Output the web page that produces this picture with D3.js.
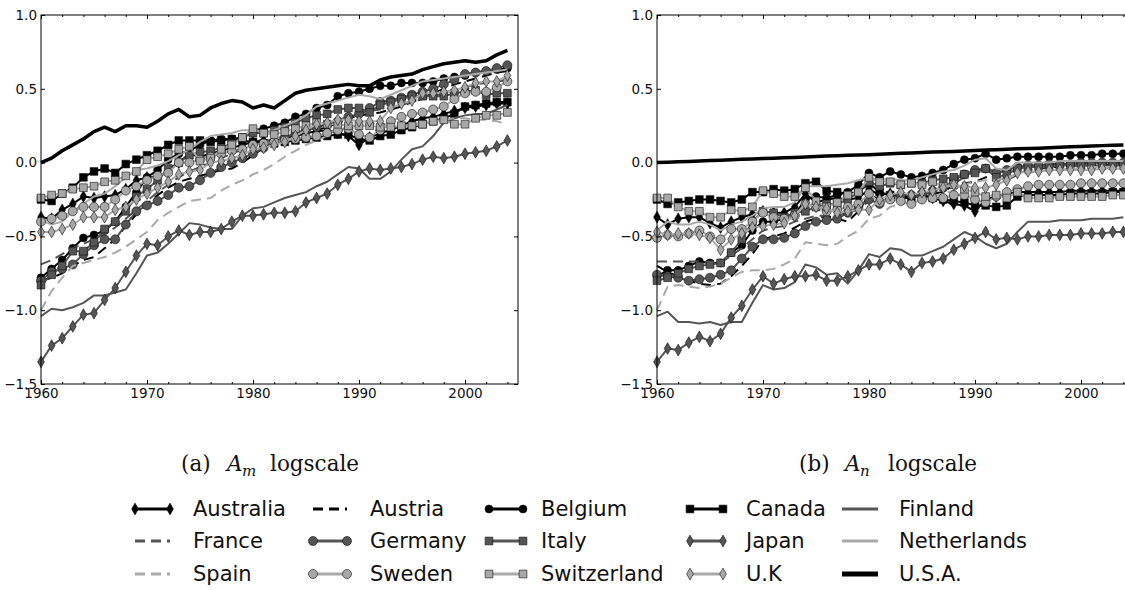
<!DOCTYPE html>
<html>
<head>
<meta charset="utf-8">
<script src="https://cdn.jsdelivr.net/npm/d3@7"></script>
<style>
  body { margin: 0; background: #fff; }
  svg text { font-family: "DejaVu Sans", sans-serif; }
</style>
</head>
<body>
<svg id="chart" width="1125" height="590"></svg>
<script>
// x axis: one value per year
var years = d3.range(1960, 2005);
var xTicks = [1960, 1970, 1980, 1990, 2000];
var yTicks = [-1.5, -1.0, -0.5, 0.0, 0.5, 1.0];
var countries = ["Australia", "Austria", "Belgium", "Canada", "Finland",
    "France", "Germany", "Italy", "Japan", "Netherlands",
    "Spain", "Sweden", "Switzerland", "U.K", "U.S.A."];

// (a) A_m logscale
var australiaM = [-0.37, -0.38, -0.32, -0.28, -0.23, -0.24, -0.23, -0.22, -0.18, -0.12,
    -0.10, -0.10, -0.06, 0.00, 0.06, 0.04, 0.06, 0.08, 0.10, 0.12,
    0.14, 0.15, 0.15, 0.16, 0.18, 0.20, 0.21, 0.22, 0.20, 0.18,
    0.12, 0.17, 0.20, 0.22, 0.25, 0.28, 0.30, 0.31, 0.33, 0.35,
    0.37, 0.38, 0.39, 0.40, 0.40];
var austriaM = [-0.80, -0.78, -0.75, -0.70, -0.66, -0.64, -0.58, -0.52, -0.43, -0.35,
    -0.28, -0.22, -0.17, -0.13, -0.11, -0.09, -0.07, -0.05, -0.04, 0.00,
    0.05, 0.10, 0.14, 0.16, 0.18, 0.20, 0.22, 0.24, 0.27, 0.30,
    0.32, 0.33, 0.34, 0.36, 0.38, 0.41, 0.44, 0.47, 0.50, 0.53,
    0.55, 0.57, 0.59, 0.61, 0.62];
var belgiumM = [-0.78, -0.72, -0.66, -0.58, -0.51, -0.49, -0.46, -0.40, -0.30, -0.20,
    -0.10, -0.05, 0.02, 0.06, 0.08, 0.12, 0.15, 0.16, 0.16, 0.17,
    0.22, 0.23, 0.25, 0.27, 0.31, 0.33, 0.37, 0.39, 0.45, 0.47,
    0.48, 0.50, 0.52, 0.52, 0.54, 0.54, 0.54, 0.55, 0.57, 0.58,
    0.59, 0.61, 0.62, 0.63, 0.64];
var canadaM = [-0.25, -0.26, -0.21, -0.17, -0.10, -0.06, -0.04, -0.07, -0.01, 0.02,
    0.05, 0.08, 0.12, 0.15, 0.15, 0.15, 0.14, 0.15, 0.16, 0.15,
    0.14, 0.13, 0.13, 0.14, 0.15, 0.16, 0.17, 0.18, 0.19, 0.19,
    0.16, 0.15, 0.18, 0.19, 0.22, 0.24, 0.26, 0.28, 0.30, 0.33,
    0.38, 0.39, 0.40, 0.41, 0.41];
var finlandM = [-1.04, -0.99, -1.00, -0.98, -0.95, -0.90, -0.90, -0.88, -0.86, -0.75,
    -0.63, -0.61, -0.55, -0.48, -0.41, -0.42, -0.44, -0.45, -0.45, -0.36,
    -0.31, -0.30, -0.27, -0.24, -0.22, -0.20, -0.16, -0.13, -0.08, -0.03,
    -0.04, -0.11, -0.11, -0.06, 0.02, 0.09, 0.11, 0.18, 0.27, 0.30,
    0.32, 0.33, 0.33, 0.36, 0.39];
var franceM = [-0.69, -0.66, -0.62, -0.58, -0.55, -0.52, -0.48, -0.44, -0.38, -0.32,
    -0.26, -0.20, -0.15, -0.10, -0.06, -0.03, 0.00, 0.03, 0.06, 0.09,
    0.12, 0.14, 0.16, 0.18, 0.20, 0.22, 0.24, 0.26, 0.29, 0.31,
    0.33, 0.35, 0.36, 0.37, 0.39, 0.41, 0.43, 0.45, 0.47, 0.49,
    0.51, 0.53, 0.54, 0.55, 0.56];
var germanyM = [-0.80, -0.74, -0.72, -0.69, -0.62, -0.56, -0.52, -0.52, -0.42, -0.33,
    -0.29, -0.26, -0.22, -0.17, -0.16, -0.12, -0.07, -0.03, 0.00, 0.03,
    0.06, 0.10, 0.14, 0.17, 0.20, 0.22, 0.24, 0.26, 0.28, 0.31,
    0.33, 0.37, 0.41, 0.42, 0.44, 0.46, 0.48, 0.50, 0.53, 0.56,
    0.60, 0.61, 0.62, 0.64, 0.66];
var italyM = [-0.83, -0.76, -0.70, -0.60, -0.60, -0.54, -0.45, -0.40, -0.33, -0.23,
    -0.18, -0.12, -0.04, 0.00, 0.05, 0.07, 0.08, 0.10, 0.13, 0.17,
    0.20, 0.20, 0.22, 0.24, 0.27, 0.30, 0.32, 0.33, 0.36, 0.37,
    0.37, 0.34, 0.39, 0.41, 0.43, 0.45, 0.45, 0.45, 0.45, 0.47,
    0.48, 0.49, 0.46, 0.47, 0.47];
var japanM = [-1.35, -1.24, -1.19, -1.11, -1.03, -1.02, -0.93, -0.85, -0.74, -0.63,
    -0.55, -0.56, -0.50, -0.46, -0.49, -0.47, -0.47, -0.45, -0.40, -0.36,
    -0.36, -0.35, -0.34, -0.34, -0.33, -0.27, -0.24, -0.21, -0.15, -0.11,
    -0.06, -0.04, -0.05, -0.04, -0.03, -0.01, 0.02, 0.04, 0.03, 0.04,
    0.06, 0.07, 0.08, 0.11, 0.15];
var netherlandsM = [-0.39, -0.42, -0.40, -0.33, -0.28, -0.23, -0.21, -0.16, -0.10, -0.05,
    -0.04, -0.02, 0.01, 0.05, 0.09, 0.14, 0.18, 0.19, 0.20, 0.22,
    0.22, 0.21, 0.22, 0.25, 0.28, 0.32, 0.38, 0.40, 0.42, 0.44,
    0.46, 0.45, 0.43, 0.46, 0.49, 0.52, 0.55, 0.56, 0.57, 0.58,
    0.59, 0.60, 0.61, 0.62, 0.63];
var spainM = [-1.00, -0.87, -0.78, -0.70, -0.68, -0.66, -0.64, -0.61, -0.57, -0.52,
    -0.47, -0.39, -0.34, -0.30, -0.26, -0.25, -0.24, -0.19, -0.15, -0.12,
    -0.08, -0.05, -0.01, 0.04, 0.08, 0.12, 0.15, 0.18, 0.21, 0.24,
    0.25, 0.26, 0.27, 0.25, 0.25, 0.26, 0.27, 0.28, 0.29, 0.30,
    0.30, 0.29, 0.29, 0.28, 0.26];
var swedenM = [-0.40, -0.38, -0.36, -0.33, -0.30, -0.30, -0.30, -0.25, -0.19, -0.16,
    -0.12, -0.09, -0.07, 0.00, 0.00, 0.02, 0.04, 0.06, 0.08, 0.09,
    0.12, 0.13, 0.14, 0.15, 0.16, 0.17, 0.18, 0.20, 0.22, 0.23,
    0.19, 0.17, 0.22, 0.28, 0.31, 0.33, 0.34, 0.36, 0.38, 0.43,
    0.47, 0.48, 0.48, 0.51, 0.55];
var switzerlandM = [-0.24, -0.22, -0.21, -0.18, -0.17, -0.16, -0.13, -0.12, -0.09, -0.06,
    0.02, 0.04, 0.06, 0.09, 0.11, 0.01, 0.03, 0.09, 0.12, 0.17,
    0.23, 0.20, 0.19, 0.21, 0.23, 0.25, 0.27, 0.26, 0.26, 0.25,
    0.25, 0.25, 0.24, 0.24, 0.25, 0.25, 0.26, 0.28, 0.29, 0.26,
    0.26, 0.30, 0.32, 0.32, 0.34];
var ukM = [-0.47, -0.47, -0.45, -0.42, -0.37, -0.37, -0.37, -0.32, -0.30, -0.25,
    -0.21, -0.17, -0.13, -0.08, -0.06, -0.05, 0.00, 0.01, 0.03, 0.05,
    0.09, 0.10, 0.12, 0.14, 0.18, 0.22, 0.26, 0.27, 0.29, 0.29,
    0.28, 0.28, 0.28, 0.37, 0.40, 0.42, 0.47, 0.47, 0.48, 0.49,
    0.51, 0.54, 0.55, 0.55, 0.59];
var usaM = [0.00, 0.03, 0.08, 0.12, 0.16, 0.21, 0.24, 0.21, 0.25, 0.25,
    0.24, 0.28, 0.33, 0.36, 0.31, 0.32, 0.37, 0.40, 0.42, 0.41,
    0.37, 0.39, 0.37, 0.42, 0.47, 0.49, 0.50, 0.51, 0.52, 0.53,
    0.52, 0.52, 0.56, 0.58, 0.59, 0.60, 0.63, 0.65, 0.67, 0.68,
    0.69, 0.68, 0.69, 0.73, 0.76];

// (b) A_n logscale
var australiaN = [-0.37, -0.42, -0.38, -0.37, -0.37, -0.41, -0.44, -0.40, -0.37, -0.35,
    -0.33, -0.34, -0.34, -0.30, -0.21, -0.27, -0.25, -0.24, -0.25, -0.24,
    -0.18, -0.22, -0.21, -0.22, -0.23, -0.22, -0.24, -0.26, -0.28, -0.29,
    -0.33, -0.25, -0.23, -0.21, -0.20, -0.20, -0.20, -0.20, -0.20, -0.19,
    -0.19, -0.19, -0.19, -0.19, -0.19];
var austriaN = [-0.70, -0.74, -0.77, -0.80, -0.82, -0.83, -0.82, -0.77, -0.70, -0.62,
    -0.52, -0.50, -0.48, -0.44, -0.40, -0.38, -0.36, -0.38, -0.40, -0.33,
    -0.22, -0.25, -0.22, -0.24, -0.24, -0.22, -0.21, -0.20, -0.15, -0.14,
    -0.13, -0.10, -0.10, -0.12, -0.08, -0.05, -0.04, -0.03, -0.03, -0.02,
    -0.02, -0.02, -0.02, -0.01, -0.01];
var belgiumN = [-0.77, -0.73, -0.73, -0.70, -0.67, -0.68, -0.68, -0.61, -0.56, -0.46,
    -0.40, -0.40, -0.38, -0.35, -0.25, -0.23, -0.24, -0.22, -0.20, -0.15,
    -0.07, -0.10, -0.06, -0.08, -0.10, -0.09, -0.07, -0.05, -0.01, 0.02,
    0.03, 0.06, 0.02, 0.03, 0.04, 0.04, 0.04, 0.04, 0.04, 0.05,
    0.05, 0.05, 0.06, 0.06, 0.06];
var canadaN = [-0.25, -0.28, -0.27, -0.26, -0.25, -0.25, -0.26, -0.27, -0.25, -0.20,
    -0.20, -0.18, -0.19, -0.18, -0.14, -0.13, -0.19, -0.20, -0.21, -0.20,
    -0.14, -0.20, -0.22, -0.23, -0.24, -0.22, -0.24, -0.25, -0.26, -0.27,
    -0.29, -0.29, -0.30, -0.29, -0.23, -0.22, -0.22, -0.22, -0.22, -0.21,
    -0.21, -0.21, -0.21, -0.20, -0.20];
var finlandN = [-1.04, -1.01, -1.08, -1.08, -1.09, -1.08, -1.10, -1.08, -1.08, -0.95,
    -0.83, -0.86, -0.85, -0.81, -0.69, -0.71, -0.76, -0.75, -0.82, -0.73,
    -0.62, -0.64, -0.58, -0.59, -0.63, -0.63, -0.60, -0.57, -0.52, -0.47,
    -0.50, -0.55, -0.58, -0.55, -0.47, -0.40, -0.40, -0.40, -0.39, -0.39,
    -0.39, -0.38, -0.38, -0.38, -0.37];
var franceN = [-0.67, -0.67, -0.67, -0.67, -0.67, -0.68, -0.68, -0.63, -0.58, -0.52,
    -0.46, -0.44, -0.43, -0.40, -0.38, -0.36, -0.36, -0.36, -0.34, -0.32,
    -0.26, -0.26, -0.25, -0.24, -0.23, -0.22, -0.20, -0.18, -0.14, -0.10,
    -0.08, -0.04, -0.06, -0.06, -0.04, -0.03, -0.02, -0.02, -0.01, -0.01,
    -0.01, 0.00, 0.00, 0.00, 0.00];
var germanyN = [-0.76, -0.77, -0.78, -0.80, -0.79, -0.78, -0.76, -0.73, -0.65, -0.57,
    -0.52, -0.52, -0.51, -0.48, -0.43, -0.40, -0.39, -0.38, -0.34, -0.30,
    -0.25, -0.28, -0.24, -0.22, -0.22, -0.21, -0.19, -0.17, -0.12, -0.08,
    -0.05, -0.04, -0.07, -0.05, -0.03, -0.02, -0.02, -0.01, -0.01, -0.01,
    0.00, 0.00, 0.00, 0.00, 0.00];
var italyN = [-0.80, -0.78, -0.75, -0.72, -0.70, -0.69, -0.68, -0.61, -0.52, -0.40,
    -0.33, -0.34, -0.37, -0.34, -0.33, -0.30, -0.28, -0.28, -0.25, -0.20,
    -0.13, -0.16, -0.14, -0.15, -0.14, -0.14, -0.12, -0.11, -0.10, -0.08,
    -0.07, -0.04, -0.10, -0.08, -0.04, -0.03, -0.03, -0.03, -0.02, -0.02,
    -0.02, -0.02, -0.02, -0.02, -0.02];
var japanN = [-1.35, -1.26, -1.27, -1.22, -1.18, -1.21, -1.16, -1.05, -0.97, -0.86,
    -0.77, -0.82, -0.79, -0.77, -0.77, -0.76, -0.80, -0.80, -0.77, -0.73,
    -0.69, -0.69, -0.65, -0.69, -0.74, -0.68, -0.67, -0.65, -0.59, -0.55,
    -0.51, -0.47, -0.52, -0.51, -0.52, -0.50, -0.50, -0.49, -0.49, -0.49,
    -0.48, -0.48, -0.48, -0.47, -0.47];
var netherlandsN = [-0.46, -0.40, -0.42, -0.42, -0.40, -0.42, -0.46, -0.42, -0.40, -0.36,
    -0.31, -0.30, -0.30, -0.27, -0.16, -0.16, -0.16, -0.15, -0.14, -0.12,
    -0.10, -0.12, -0.11, -0.12, -0.12, -0.10, -0.08, -0.06, -0.05, -0.02,
    0.02, 0.03, -0.04, -0.05, 0.00, 0.00, 0.00, 0.00, 0.01, 0.01,
    0.01, 0.01, 0.01, 0.01, 0.01];
var spainN = [-1.00, -0.84, -0.83, -0.84, -0.85, -0.84, -0.82, -0.78, -0.74, -0.73,
    -0.73, -0.72, -0.69, -0.65, -0.54, -0.55, -0.56, -0.55, -0.50, -0.46,
    -0.38, -0.36, -0.30, -0.28, -0.27, -0.25, -0.23, -0.21, -0.19, -0.15,
    -0.13, -0.12, -0.12, -0.10, -0.08, -0.07, -0.06, -0.05, -0.05, -0.04,
    -0.04, -0.03, -0.03, -0.03, -0.03];
var swedenN = [-0.51, -0.49, -0.50, -0.48, -0.46, -0.50, -0.52, -0.45, -0.45, -0.40,
    -0.34, -0.37, -0.38, -0.36, -0.28, -0.30, -0.33, -0.32, -0.30, -0.28,
    -0.21, -0.27, -0.25, -0.26, -0.28, -0.25, -0.24, -0.24, -0.22, -0.22,
    -0.25, -0.27, -0.23, -0.20, -0.18, -0.16, -0.15, -0.15, -0.15, -0.15,
    -0.14, -0.14, -0.14, -0.14, -0.14];
var switzerlandN = [-0.24, -0.24, -0.30, -0.33, -0.33, -0.37, -0.37, -0.32, -0.33, -0.30,
    -0.19, -0.21, -0.23, -0.23, -0.17, -0.26, -0.30, -0.27, -0.22, -0.20,
    -0.10, -0.13, -0.13, -0.15, -0.14, -0.15, -0.13, -0.16, -0.15, -0.18,
    -0.20, -0.23, -0.22, -0.24, -0.20, -0.24, -0.24, -0.24, -0.23, -0.23,
    -0.23, -0.23, -0.23, -0.22, -0.22];
var ukN = [-0.47, -0.49, -0.48, -0.48, -0.49, -0.51, -0.59, -0.52, -0.48, -0.44,
    -0.43, -0.42, -0.41, -0.36, -0.28, -0.30, -0.31, -0.34, -0.33, -0.32,
    -0.32, -0.25, -0.22, -0.20, -0.22, -0.20, -0.19, -0.17, -0.15, -0.16,
    -0.17, -0.17, -0.15, -0.12, -0.07, -0.06, -0.06, -0.05, -0.05, -0.05,
    -0.05, -0.05, -0.04, -0.04, -0.04];
var usaN = [0.000, 0.003, 0.005, 0.008, 0.011, 0.014, 0.016, 0.019, 0.022, 0.024,
    0.027, 0.030, 0.033, 0.035, 0.038, 0.041, 0.044, 0.046, 0.049, 0.052,
    0.054, 0.057, 0.060, 0.063, 0.065, 0.068, 0.071, 0.074, 0.076, 0.079,
    0.082, 0.085, 0.087, 0.090, 0.093, 0.096, 0.098, 0.101, 0.104, 0.107,
    0.109, 0.112, 0.115, 0.118, 0.120];

var dataM = [australiaM, austriaM, belgiumM, canadaM, finlandM, franceM, germanyM, italyM,
    japanM, netherlandsM, spainM, swedenM, switzerlandM, ukM, usaM];
var dataN = [australiaN, austriaN, belgiumN, canadaN, finlandN, franceN, germanyN, italyN,
    japanN, netherlandsN, spainN, swedenN, switzerlandN, ukN, usaN];

// line styles, same order as countries
var black = "#000000", dark = "#555555", light = "#a8a8a8";
var styles = [
    {color: black, marker: "diamond"},
    {color: black, dash: "10,6"},
    {color: black, marker: "circle", size: 50},
    {color: black, marker: "square"},
    {color: dark},
    {color: dark, dash: "10,6"},
    {color: dark, marker: "circle"},
    {color: dark, marker: "square"},
    {color: dark, marker: "diamond"},
    {color: light},
    {color: light, dash: "10,6"},
    {color: light, marker: "circle"},
    {color: light, marker: "square"},
    {color: light, marker: "diamond"},
    {color: black, width: 3.5, legendWidth: 5}
];

var svg = d3.select("#chart");

var plotTop = 15, plotBottom = 384, plotWidth = 477;

function markerPath(s){
    if (s.marker == "circle"){
        return d3.symbol(d3.symbolCircle, s.size || 64)();
    }
    else if (s.marker == "square"){
        return d3.symbol(d3.symbolSquare, 60)();
    }
    return d3.symbol(d3.symbolDiamond, 40)();
}

function drawPanel(left, data){
    var xScale = d3.scaleLinear()
        .domain([1960, 2005])
        .range([left, left + plotWidth]);
    var yScale = d3.scaleLinear()
        .domain([-1.5, 1.0])
        .range([plotBottom, plotTop]);

    var panel = svg.append("g");

    //series, each line with its own markers
    styles.forEach(function(s, k){
        var values = data[k];
        var line = d3.line()
            .x((d, i) => xScale(years[i]))
            .y(d => yScale(d));

        panel.append("path")
            .datum(values)
            .attr("d", line)
            .attr("fill", "none")
            .attr("stroke", s.color)
            .attr("stroke-width", s.width || 2)
            .attr("stroke-dasharray", s.dash || null)
            .attr("stroke-linejoin", "round");

        if (s.marker){
            panel.selectAll(null)
                .data(values)
                .enter()
                .append("path")
                .attr("transform", (d, i) => `translate(${xScale(years[i])},${yScale(d)})`)
                .attr("d", markerPath(s))
                .attr("fill", s.color)
                .attr("stroke", "#111")
                .attr("stroke-width", 0.6);
        }
    });

    //frame
    panel.append("rect")
        .attr("x", left)
        .attr("y", plotTop)
        .attr("width", plotWidth)
        .attr("height", plotBottom - plotTop)
        .attr("fill", "none")
        .attr("stroke", "#000")
        .attr("stroke-width", 1);

    var minorYears = d3.range(1962, 2005, 2).filter(d => d % 10 != 0);

    //bottom axis with labels
    panel.append("g")
        .attr("transform", `translate(0, ${plotBottom})`)
        .call(d3.axisBottom(xScale).tickValues(xTicks).tickFormat(d3.format("d"))
            .tickSizeInner(-4).tickSizeOuter(0).tickPadding(4));
    panel.append("g")
        .attr("transform", `translate(0, ${plotBottom})`)
        .call(d3.axisBottom(xScale).tickValues(minorYears).tickFormat("")
            .tickSizeInner(-2).tickSizeOuter(0));

    //top axis, ticks only
    panel.append("g")
        .attr("transform", `translate(0, ${plotTop})`)
        .call(d3.axisTop(xScale).tickValues(xTicks).tickFormat("")
            .tickSizeInner(-4).tickSizeOuter(0));
    panel.append("g")
        .attr("transform", `translate(0, ${plotTop})`)
        .call(d3.axisTop(xScale).tickValues(minorYears).tickFormat("")
            .tickSizeInner(-2).tickSizeOuter(0));

    //left axis with labels
    panel.append("g")
        .attr("transform", `translate(${left}, 0)`)
        .call(d3.axisLeft(yScale).tickValues(yTicks).tickFormat(d3.format(".1f"))
            .tickSizeInner(-4).tickSizeOuter(0).tickPadding(4));

    //right axis, ticks only
    panel.append("g")
        .attr("transform", `translate(${left + plotWidth}, 0)`)
        .call(d3.axisRight(yScale).tickValues(yTicks).tickFormat("")
            .tickSizeInner(-4).tickSizeOuter(0));

    panel.selectAll(".domain").remove();
    panel.selectAll(".tick line").attr("stroke", "#000");
    panel.selectAll(".tick text")
        .attr("font-family", "DejaVu Sans")
        .attr("font-size", "13.5px")
        .attr("fill", "#111");
}

drawPanel(41, dataM);
drawPanel(657, dataN);

//captions
function caption(x, tag, sub){
    var t = svg.append("text")
        .attr("y", 471)
        .attr("font-size", "21.5px")
        .attr("fill", "#111")
        .style("font-family", "'DejaVu Serif', serif");
    t.append("tspan").attr("x", x).text("(" + tag + ")");
    t.append("tspan").attr("x", x + 46).attr("font-style", "italic").text("A");
    t.append("tspan").attr("x", x + 61).attr("dy", 5).attr("font-size", "15px")
        .attr("font-style", "italic").text(sub);
    t.append("tspan").attr("x", x + 89).attr("dy", -5).text("logscale");
}
caption(181, "a", "m");
caption(799, "b", "n");

//legend, 5 columns by 3 rows
var legendCols = [{x1: 135, x2: 170, tx: 193}, {x1: 313, x2: 347, tx: 370},
    {x1: 489, x2: 523, tx: 541}, {x1: 690, x2: 723, tx: 746}, {x1: 842, x2: 878, tx: 899}];
var legendRows = [509, 541, 574];

var legend = svg.append("g");
styles.forEach(function(s, k){
    var col = legendCols[k % 5];
    var y = legendRows[Math.floor(k / 5)];

    legend.append("line")
        .attr("x1", col.x1)
        .attr("x2", col.x2)
        .attr("y1", y)
        .attr("y2", y)
        .attr("stroke", s.color)
        .attr("stroke-width", s.legendWidth || 3)
        .attr("stroke-dasharray", s.dash || null);

    if (s.marker){
        [col.x1, col.x2].forEach(function(mx){
            legend.append("path")
                .attr("transform", `translate(${mx},${y})`)
                .attr("d", markerPath(s))
                .attr("fill", s.color)
                .attr("stroke", "#111")
                .attr("stroke-width", 0.6);
        });
    }

    legend.append("text")
        .attr("x", col.tx)
        .attr("y", y + 7)
        .attr("font-size", "21px")
        .attr("fill", "#111")
        .text(countries[k]);
});
</script>
</body>
</html>
